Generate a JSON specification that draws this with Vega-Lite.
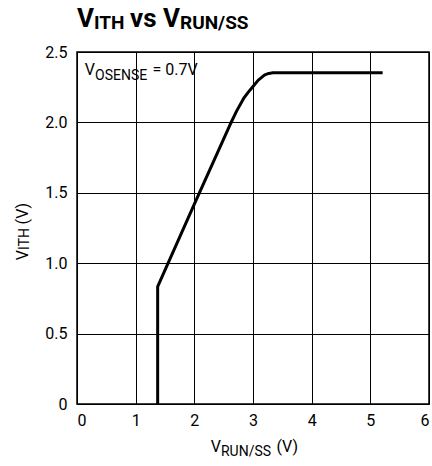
{
  "$schema": "https://vega.github.io/schema/vega-lite/v6.json",
  "width": 352,
  "height": 352,
  "autosize": {"type": "none"},
  "padding": {"left": 77, "top": 52, "right": 3, "bottom": 62},
  "datasets": {
    "curve": [
      {"i": 0, "vrun": 1.375, "vith": 0},
      {"i": 1, "vrun": 1.375, "vith": 0.833},
      {"i": 2, "vrun": 2.0, "vith": 1.42},
      {"i": 3, "vrun": 2.61, "vith": 1.985},
      {"i": 4, "vrun": 2.72, "vith": 2.08},
      {"i": 5, "vrun": 2.84, "vith": 2.17},
      {"i": 6, "vrun": 2.92, "vith": 2.215},
      {"i": 7, "vrun": 3.0, "vith": 2.255},
      {"i": 8, "vrun": 3.09, "vith": 2.3},
      {"i": 9, "vrun": 3.2, "vith": 2.337},
      {"i": 10, "vrun": 3.27, "vith": 2.348},
      {"i": 11, "vrun": 3.34, "vith": 2.352},
      {"i": 12, "vrun": 5.21, "vith": 2.352}
    ],
    "titleMain": [
      {"part": "V", "vrun": 0.29, "vith": 2.675},
      {"part": "vs V", "vrun": 1.756, "vith": 2.675}
    ],
    "titleSub": [
      {"part": "ITH", "vrun": 0.29, "vith": 2.661},
      {"part": "RUN/SS", "vrun": 1.756, "vith": 2.661}
    ],
    "textMain": [
      {"part": "V", "vrun": 0.307, "vith": 2.337},
      {"part": "= 0.7V", "vrun": 2.056, "vith": 2.337},
      {"part": "V", "vrun": 2.454, "vith": -0.341},
      {"part": "(V)", "vrun": 3.767, "vith": -0.341}
    ],
    "textSub": [
      {"part": "OSENSE", "vrun": 0.307, "vith": 2.301},
      {"part": "RUN/SS", "vrun": 2.454, "vith": -0.369}
    ],
    "yTitleMain": [
      {"part": "V", "vrun": -0.835, "vith": 1.094},
      {"part": "(V)", "vrun": -0.835, "vith": 1.428}
    ],
    "yTitleSub": [
      {"part": "ITH", "vrun": -0.81, "vith": 1.094}
    ]
  },
  "encoding": {
    "x": {
      "field": "vrun",
      "type": "quantitative",
      "scale": {"domain": [0, 6], "nice": false},
      "axis": {"values": [0, 1, 2, 3, 4, 5, 6], "format": "d", "title": null}
    },
    "y": {
      "field": "vith",
      "type": "quantitative",
      "scale": {"domain": [0, 2.5], "nice": false},
      "axis": {
        "values": [0, 0.5, 1, 1.5, 2, 2.5],
        "labelExpr": "datum.value == 0 ? '0' : format(datum.value, '.1f')",
        "title": null
      }
    }
  },
  "layer": [
    {
      "data": {"name": "curve"},
      "mark": {"type": "line", "color": "black", "strokeWidth": 3, "strokeJoin": "round"},
      "encoding": {"order": {"field": "i"}}
    },
    {
      "data": {"name": "titleMain"},
      "mark": {"type": "text", "align": "right", "baseline": "alphabetic", "fontSize": 26, "fontWeight": "bold", "color": "black"},
      "encoding": {"text": {"field": "part"}}
    },
    {
      "data": {"name": "titleSub"},
      "mark": {"type": "text", "align": "left", "baseline": "alphabetic", "fontSize": 19, "fontWeight": "bold", "color": "black"},
      "encoding": {"text": {"field": "part"}}
    },
    {
      "data": {"name": "textMain"},
      "mark": {"type": "text", "align": "right", "baseline": "alphabetic", "fontSize": 16, "color": "black"},
      "encoding": {"text": {"field": "part"}}
    },
    {
      "data": {"name": "textSub"},
      "mark": {"type": "text", "align": "left", "baseline": "alphabetic", "fontSize": 14, "color": "black"},
      "encoding": {"text": {"field": "part"}}
    },
    {
      "data": {"name": "yTitleMain"},
      "mark": {"type": "text", "align": "right", "baseline": "alphabetic", "angle": 270, "fontSize": 16, "color": "black"},
      "encoding": {"text": {"field": "part"}}
    },
    {
      "data": {"name": "yTitleSub"},
      "mark": {"type": "text", "align": "left", "baseline": "alphabetic", "angle": 270, "fontSize": 14, "color": "black"},
      "encoding": {"text": {"field": "part"}}
    }
  ],
  "config": {
    "font": "Roboto",
    "view": {"stroke": "black", "strokeWidth": 1.5},
    "axis": {
      "domain": false,
      "ticks": false,
      "grid": true,
      "gridColor": "black",
      "gridOpacity": 1,
      "gridWidth": 1,
      "labelFont": "Roboto",
      "labelFontSize": 16,
      "labelColor": "black",
      "labelPadding": 10
    },
    "axisX": {"labelPadding": 8}
  }
}
